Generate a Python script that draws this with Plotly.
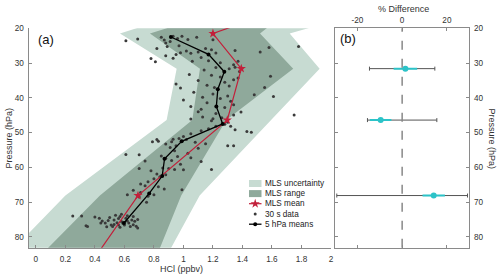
import plotly.graph_objects as go

# ---------------- data ----------------
# MLS levels (hPa) and envelope edges (ppbv)
P_LEVELS = [14.7, 21.5, 31.6, 46.4, 68.1, 100.0]
UNC_LO = [1.07, 0.57, 0.954, 0.886, 0.20, -0.53]
UNC_HI = [2.28, 1.72, 1.923, 1.594, 1.11, 0.70]
RNG_LO = [1.285, 0.773, 1.112, 1.06, 0.434, -0.31]
RNG_HI = [1.72, 1.519, 1.744, 1.29, 0.985, 0.68]
MLS_MEAN = [1.65, 1.20, 1.392, 1.297, 0.692, 0.17]
STAR_P = [21.5, 31.6, 46.4, 68.1]
STAR_X = [1.20, 1.392, 1.297, 0.692]

# 5 hPa means
MEAN_P = [22.5, 27.5, 32.5, 37.5, 42.5, 47.5, 52.5, 57.5, 62.5, 67.5, 76.0]
MEAN_X = [0.915, 1.17, 1.277, 1.233, 1.223, 1.266, 0.988, 0.872, 0.856, 0.768, 0.597]

# 30 s data (x, p)
DOTS = [
    (0.61, 23.6), (0.69, 23.1), (0.82, 25.8), (0.85, 22.6), (0.87, 23.4), (0.88, 24.2),
    (0.91, 23.8), (0.93, 22.3), (0.96, 22.9), (0.99, 22.3), (1.03, 23.2), (1.09, 22.6),
    (1.20, 23.3), (0.81, 29.6), (0.89, 25.2), (0.97, 25.0),
    (0.88, 27.9), (0.93, 28.6), (0.95, 27.5), (0.98, 27.0), (1.02, 26.5), (1.05, 27.2),
    (1.10, 26.8), (1.15, 25.8), (1.12, 28.4), (1.17, 29.3), (1.22, 27.1), (1.19, 26.2),
    (1.35, 26.4), (1.52, 26.8), (1.58, 25.5), (1.78, 25.2), (1.37, 29.5), (0.78, 28.7),
    (1.25, 29.9), (1.06, 29.5),
    (1.34, 30.5), (1.35, 31.2), (1.31, 31.6), (1.38, 32.4), (1.04, 33.3), (1.14, 32.0),
    (1.19, 33.5), (1.22, 31.3), (1.25, 34.0), (1.28, 35.5), (1.34, 34.8), (1.37, 34.3),
    (1.59, 33.8), (0.95, 36.0), (1.10, 35.0), (1.16, 36.4), (1.31, 36.6), (1.21, 37.0),
    (1.55, 37.0),
    (0.98, 37.2), (1.07, 38.4), (1.13, 39.8), (1.20, 38.9), (1.25, 40.2), (1.30, 39.5),
    (1.48, 39.1), (1.61, 39.6), (1.00, 40.6), (1.05, 42.5), (1.12, 43.3), (1.16, 41.4),
    (1.22, 44.5), (1.28, 42.8), (1.32, 41.0), (1.34, 42.0), (1.39, 44.1), (1.34, 44.9),
    (1.75, 44.9), (1.05, 46.1), (1.13, 45.5), (1.19, 46.6), (1.26, 45.7), (1.30, 47.0),
    (1.22, 48.2), (1.20, 46.0), (1.10, 44.0),
    (1.28, 47.6), (1.32, 48.2), (1.35, 49.2), (1.43, 49.7), (1.46, 49.9), (1.17, 48.9),
    (1.12, 49.5), (1.05, 50.3), (1.00, 51.1), (0.97, 51.7), (0.93, 51.9), (0.92, 52.6),
    (0.82, 52.0), (0.83, 52.5), (0.79, 52.6), (0.88, 53.3), (1.02, 52.0), (1.08, 52.8),
    (1.15, 53.2), (1.30, 53.8), (1.34, 53.8), (0.95, 53.8), (1.10, 54.5), (0.94, 55.2),
    (0.91, 54.3),
    (0.61, 56.3), (0.70, 56.4), (0.74, 58.2), (0.85, 56.7), (0.88, 57.4), (0.92, 58.0),
    (0.96, 56.9), (1.03, 55.9), (1.05, 57.2), (1.12, 58.3), (0.98, 59.1), (0.70, 60.3),
    (0.78, 61.0), (0.82, 61.9), (0.86, 60.2), (0.90, 60.3), (0.94, 60.6), (1.00, 60.7),
    (1.19, 60.6), (0.80, 63.3), (0.84, 62.7), (0.88, 62.1), (0.76, 64.1), (0.71, 64.8),
    (0.74, 65.3), (0.83, 65.6), (0.87, 66.2), (0.99, 66.4),
    (0.62, 67.9), (0.66, 66.6), (0.71, 67.2), (0.76, 68.3), (0.80, 67.9), (0.70, 68.5),
    (0.75, 70.0),
    (0.25, 74.0), (0.31, 74.0), (0.34, 76.8), (0.35, 77.0), (0.40, 74.3), (0.43, 74.6),
    (0.45, 75.4), (0.47, 76.0), (0.49, 75.3), (0.50, 74.4), (0.51, 76.6), (0.52, 77.0),
    (0.53, 75.1), (0.54, 73.8), (0.55, 75.9), (0.56, 74.7), (0.56, 76.6), (0.57, 74.1),
    (0.58, 75.6), (0.59, 76.1), (0.60, 76.6), (0.61, 74.6), (0.62, 75.4), (0.63, 76.0),
    (0.64, 77.0), (0.65, 75.1), (0.66, 74.1), (0.66, 76.5), (0.67, 75.5), (0.68, 76.9),
    (0.69, 75.0), (0.69, 77.4), (0.53, 76.4), (0.57, 77.2), (0.48, 77.1), (0.44, 76.0),
    (0.62, 73.9), (0.58, 73.5),
]
DOTS_X = [d[0] for d in DOTS]
DOTS_P = [d[1] for d in DOTS]

# panel (b)
B_P = [31.6, 46.4, 68.1]
B_DIFF = [1.45, -9.6, 14.1]
B_DIFF_ERR = [5.25, 4.8, 5.0]
B_UNC = [14.6, 15.5, 29.2]

X_TICKS = [0, 0.2, 0.4, 0.6, 0.8, 1.0, 1.2, 1.4, 1.6, 1.8, 2.0]
X_TICKTEXT = ["0", "0.2", "0.4", "0.6", "0.8", "1", "1.2", "1.4", "1.6", "1.8", "2"]
Y_TICKS = [20, 30, 40, 50, 60, 70, 80]
B_XTICKS = [-20, 0, 20]
B_XTICKTEXT = ["-20", "0", "20"]

LEGEND_LABELS = ["MLS uncertainty", "MLS range", "MLS mean", "30 s data", "5 hPa means"]

# ---------------- styles ----------------
LIGHT = "#c7dbd2"
DARK = "#8fa99b"
RED = "#c21f3a"
CYAN = "#2cc3c8"
AX = "#8a8a8a"
TXT = "#333333"
FONT = "Liberation Sans, Arial, sans-serif"

fig = go.Figure()

fig.add_trace(go.Scatter(x=UNC_LO + UNC_HI[::-1], y=P_LEVELS + P_LEVELS[::-1],
                         fill="toself", fillcolor=LIGHT, mode="lines", line=dict(width=0),
                         xaxis="x", yaxis="y", hoverinfo="skip"))
fig.add_trace(go.Scatter(x=RNG_LO + RNG_HI[::-1], y=P_LEVELS + P_LEVELS[::-1],
                         fill="toself", fillcolor=DARK, mode="lines", line=dict(width=0),
                         xaxis="x", yaxis="y", hoverinfo="skip"))
fig.add_trace(go.Scatter(x=DOTS_X, y=DOTS_P, mode="markers",
                         marker=dict(size=3, color="#3a3a3a"), xaxis="x", yaxis="y"))
fig.add_trace(go.Scatter(x=MLS_MEAN, y=P_LEVELS, mode="lines",
                         line=dict(color=RED, width=1.2), xaxis="x", yaxis="y"))
fig.add_trace(go.Scatter(x=STAR_X, y=STAR_P, mode="markers",
                         marker=dict(symbol="star", size=7, color=RED), xaxis="x", yaxis="y"))
fig.add_trace(go.Scatter(x=MEAN_X, y=MEAN_P, mode="lines+markers",
                         line=dict(color="black", width=1.3),
                         marker=dict(size=4, color="black"), xaxis="x", yaxis="y"))

# panel b
fig.add_trace(go.Scatter(x=[0] * len(B_P), y=B_P, mode="markers",
                         marker=dict(size=0.1, color="rgba(0,0,0,0)"),
                         error_x=dict(type="data", array=B_UNC, color="#555555",
                                      thickness=1, width=2),
                         xaxis="x2", yaxis="y2"))
fig.add_trace(go.Scatter(x=B_DIFF, y=B_P, mode="markers",
                         marker=dict(size=6, color=CYAN),
                         error_x=dict(type="data", array=B_DIFF_ERR, color=CYAN,
                                      thickness=2, width=0),
                         xaxis="x2", yaxis="y2"))

# ---- legend drawn on an overlay pixel axis ----
LX0, LX1, LXM = 249, 261.5, 255.2
LROWS = [183.5, 193.6, 203.7, 214.0, 224.2]
fig.add_trace(go.Scatter(x=[LX0, LX1, LX1, LX0, LX0],
                         y=[LROWS[0] - 3.5, LROWS[0] - 3.5, LROWS[0] + 3.5, LROWS[0] + 3.5, LROWS[0] - 3.5],
                         fill="toself", fillcolor=LIGHT, mode="lines", line=dict(width=0),
                         xaxis="x3", yaxis="y3"))
fig.add_trace(go.Scatter(x=[LX0, LX1, LX1, LX0, LX0],
                         y=[LROWS[1] - 3.5, LROWS[1] - 3.5, LROWS[1] + 3.5, LROWS[1] + 3.5, LROWS[1] - 3.5],
                         fill="toself", fillcolor=DARK, mode="lines", line=dict(width=0),
                         xaxis="x3", yaxis="y3"))
fig.add_trace(go.Scatter(x=[LX0, LX1], y=[LROWS[2], LROWS[2]], mode="lines",
                         line=dict(color=RED, width=1.2), xaxis="x3", yaxis="y3"))
fig.add_trace(go.Scatter(x=[LXM], y=[LROWS[2]], mode="markers",
                         marker=dict(symbol="star", size=7, color=RED), xaxis="x3", yaxis="y3"))
fig.add_trace(go.Scatter(x=[LXM], y=[LROWS[3]], mode="markers",
                         marker=dict(size=3, color="#3a3a3a"), xaxis="x3", yaxis="y3"))
fig.add_trace(go.Scatter(x=[LX0, LX1], y=[LROWS[4], LROWS[4]], mode="lines",
                         line=dict(color="black", width=1.3), xaxis="x3", yaxis="y3"))
fig.add_trace(go.Scatter(x=[LXM], y=[LROWS[4]], mode="markers",
                         marker=dict(size=4, color="black"), xaxis="x3", yaxis="y3"))

W, H = 500, 278
ann = []
for lab, ly in zip(LEGEND_LABELS, LROWS):
    ann.append(dict(text=lab, x=263 / W, y=1 - ly / H, xref="paper", yref="paper",
                    xanchor="left", yanchor="middle", showarrow=False,
                    font=dict(size=8.2, color="#222222", family=FONT)))
ann += [
    dict(text="(a)", x=36 / W, y=1 - 39 / H, xref="paper", yref="paper", xanchor="left",
         yanchor="middle", showarrow=False, font=dict(size=13, color="#111111", family=FONT)),
    dict(text="(b)", x=337.5 / W, y=1 - 38 / H, xref="paper", yref="paper", xanchor="left",
         yanchor="middle", showarrow=False, font=dict(size=13, color="#111111", family=FONT)),
    dict(text="HCl (ppbv)", x=181 / W, y=1 - 268.5 / H, xref="paper", yref="paper",
         xanchor="center", yanchor="middle", showarrow=False,
         font=dict(size=9, color=TXT, family=FONT)),
    dict(text="Pressure (hPa)", x=8.5 / W, y=1 - 138 / H, xref="paper", yref="paper",
         xanchor="center", yanchor="middle", showarrow=False, textangle=-90,
         font=dict(size=9, color=TXT, family=FONT)),
    dict(text="% Difference", x=403 / W, y=1 - 8.5 / H, xref="paper", yref="paper",
         xanchor="center", yanchor="middle", showarrow=False,
         font=dict(size=9, color=TXT, family=FONT)),
    dict(text="Pressure (hPa)", x=491.5 / W, y=1 - 139 / H, xref="paper", yref="paper",
         xanchor="center", yanchor="middle", showarrow=False, textangle=90,
         font=dict(size=9, color=TXT, family=FONT)),
]

YDOM = [1 - 247.7 / H, 1 - 28.3 / H]
tickfont = dict(size=8.2, color=TXT, family=FONT)
common = dict(showgrid=False, zeroline=False, showline=True, linecolor=AX, linewidth=1,
              ticks="inside", ticklen=3, tickcolor=AX, tickfont=tickfont, automargin=False)

fig.update_layout(
    template="none",
    width=W, height=H, margin=dict(l=0, r=0, t=0, b=0, pad=0),
    paper_bgcolor="white", plot_bgcolor="rgba(0,0,0,0)", showlegend=False,
    hovermode=False,
    xaxis=dict(domain=[28.5 / W, 331 / W], range=[-0.05, 2.0], tickvals=X_TICKS,
               ticktext=X_TICKTEXT, anchor="y", ticklabelstandoff=3, **common),
    yaxis=dict(domain=YDOM, range=[83.1, 20], tickvals=Y_TICKS, anchor="x",
               ticklabelstandoff=2, **common),
    xaxis2=dict(domain=[335 / W, 469.3 / W], range=[-30, 30], tickvals=B_XTICKS,
                ticktext=B_XTICKTEXT, side="top", anchor="y2", mirror="ticks",
                ticklabelstandoff=1, **common),
    yaxis2=dict(domain=YDOM, range=[83.1, 20], tickvals=Y_TICKS, side="right",
                anchor="x2", mirror="ticks", ticklabelstandoff=2, **common),
    xaxis3=dict(domain=[0, 1], range=[0, W], visible=False, anchor="y3", automargin=False),
    yaxis3=dict(domain=[0, 1], range=[H, 0], visible=False, anchor="x3", automargin=False),
    annotations=ann,
    shapes=[dict(type="line", xref="x2", yref="y2 domain", x0=0, x1=0, y0=0, y1=1,
                 line=dict(color="#888888", width=1.5, dash="dash"))],
)

fig.write_html("out.html", config={"displayModeBar": False, "staticPlot": True},
               post_script="document.body.style.margin='0';document.body.style.overflow='hidden';")
